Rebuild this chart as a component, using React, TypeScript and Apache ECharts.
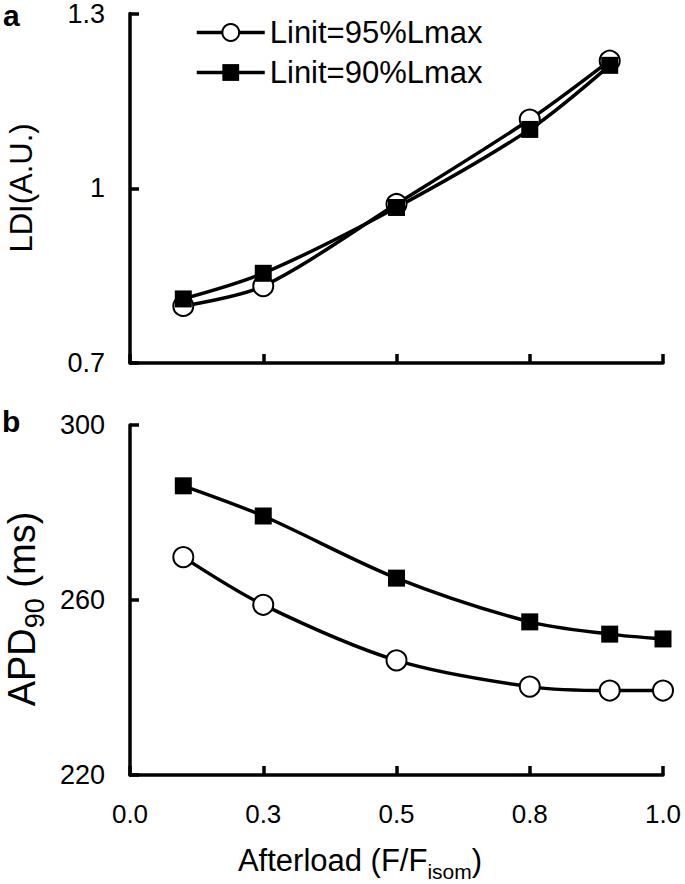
import React, { useEffect, useRef } from "react";
import * as echarts from "echarts";

const seriesNames = ["Linit=95%Lmax", "Linit=90%Lmax"];
const afterloadA = [0.1, 0.25, 0.5, 0.75, 0.9];
const ldi95 = [0.798, 0.832, 0.973, 1.118, 1.219];
const ldi90 = [0.81, 0.854, 0.967, 1.101, 1.211];
const afterloadB = [0.1, 0.25, 0.5, 0.75, 0.9, 1.0];
const apd95 = [269.8, 258.9, 246.2, 240.2, 239.3, 239.3];
const apd90 = [286.1, 279.2, 265.0, 255.0, 252.2, 251.1];
const panelLabels = ["a", "b"];
const axisTitles = {
  ldi: "LDI(A.U.)",
  apd: "{m|APD}{s|90}{m| (ms)}",
  x: "{m|Afterload (F/F}{s|isom}{m|)}",
};

const FONT = "Liberation Sans, Arial, sans-serif";
const BLACK = "#000";

function pairs(xs: number[], ys: number[]) {
  return xs.map((x, i) => [x, ys[i]]);
}

export default function App() {
  const ref = useRef<HTMLDivElement>(null);
  useEffect(() => {
    if (!ref.current) return;
    const chart = echarts.init(ref.current, null, { renderer: "svg" });
    const axisLine = { show: true, lineStyle: { color: BLACK, width: 3.5 } };
    const axisTick = { show: true, inside: true, length: 9, lineStyle: { color: BLACK, width: 3.5 } };
    const xAxisBase = {
      type: "value",
      min: 0,
      max: 1,
      interval: 0.25,
      axisLine,
      axisTick,
      splitLine: { show: false },
    };
    const yLabel = { color: BLACK, fontSize: 27, lineHeight: 24, fontFamily: FONT, margin: 25 };
    const circleStyle = { color: "#fff", borderColor: BLACK, borderWidth: 2 };
    const squareStyle = { color: BLACK, borderColor: BLACK, borderWidth: 0 };
    const lineStyle = { color: BLACK, width: 3.5 };
    const panelLabelStyle = {
      fontSize: 30,
      fontWeight: "bold",
      fontFamily: FONT,
      fill: BLACK,
      verticalAlign: "middle",
      lineHeight: 20,
    };
    chart.setOption({
      animation: false,
      backgroundColor: "#fff",
      textStyle: { fontFamily: FONT },
      grid: [
        { left: 130, top: 13, width: 533, height: 350 },
        { left: 130, top: 425, width: 533, height: 350 },
      ],
      legend: {
        data: seriesNames,
        orient: "vertical",
        left: 195,
        top: 17,
        padding: 0,
        itemWidth: 68,
        itemHeight: 21,
        itemGap: 9,
        textStyle: { color: BLACK, fontSize: 31, fontFamily: FONT },
        lineStyle: { width: 3.5 },
      },
      xAxis: [
        { ...xAxisBase, gridIndex: 0, axisLabel: { show: false } },
        {
          ...xAxisBase,
          gridIndex: 1,
          axisLabel: {
            color: BLACK,
            fontSize: 26,
            fontFamily: FONT,
            margin: 26,
            formatter: (v: number) => v.toFixed(1),
          },
        },
      ],
      yAxis: [
        {
          type: "value",
          gridIndex: 0,
          min: 0.7,
          max: 1.3,
          interval: 0.3,
          axisLine,
          axisTick,
          splitLine: { show: false },
          axisLabel: { ...yLabel, formatter: (v: number) => String(Math.round(v * 10) / 10) },
        },
        {
          type: "value",
          gridIndex: 1,
          min: 220,
          max: 300,
          interval: 40,
          axisLine,
          axisTick,
          splitLine: { show: false },
          axisLabel: yLabel,
        },
      ],
      series: [
        {
          name: seriesNames[0],
          type: "line",
          xAxisIndex: 0,
          yAxisIndex: 0,
          data: pairs(afterloadA, ldi95),
          smooth: 0.3,
          symbol: "circle",
          symbolSize: 20,
          itemStyle: circleStyle,
          lineStyle,
        },
        {
          name: seriesNames[1],
          type: "line",
          xAxisIndex: 0,
          yAxisIndex: 0,
          data: pairs(afterloadA, ldi90),
          smooth: 0.3,
          symbol: "rect",
          symbolSize: 17,
          itemStyle: squareStyle,
          lineStyle,
        },
        {
          name: seriesNames[0],
          type: "line",
          xAxisIndex: 1,
          yAxisIndex: 1,
          data: pairs(afterloadB, apd95),
          smooth: 0.3,
          symbol: "circle",
          symbolSize: 20,
          itemStyle: circleStyle,
          lineStyle,
        },
        {
          name: seriesNames[1],
          type: "line",
          xAxisIndex: 1,
          yAxisIndex: 1,
          data: pairs(afterloadB, apd90),
          smooth: 0.3,
          symbol: "rect",
          symbolSize: 17,
          itemStyle: squareStyle,
          lineStyle,
        },
      ],
      graphic: [
        { type: "text", x: 3, y: 15, style: { ...panelLabelStyle, text: panelLabels[0] } },
        { type: "text", x: 2, y: 421, style: { ...panelLabelStyle, text: panelLabels[1] } },
        {
          type: "text",
          x: 21,
          y: 188,
          rotation: Math.PI / 2,
          style: {
            text: axisTitles.ldi,
            fontSize: 31,
            fontFamily: FONT,
            fill: BLACK,
            align: "center",
            verticalAlign: "middle",
          },
        },
        {
          type: "text",
          x: 22,
          y: 609,
          rotation: Math.PI / 2,
          style: {
            text: axisTitles.apd,
            fontFamily: FONT,
            fill: BLACK,
            align: "center",
            verticalAlign: "middle",
            rich: {
              m: { fontSize: 38, lineHeight: 52, fontFamily: FONT, fill: BLACK },
              s: { fontSize: 27, lineHeight: 52, fontFamily: FONT, fill: BLACK, verticalAlign: "bottom" },
            },
          },
        },
        {
          type: "text",
          x: 360,
          y: 860,
          style: {
            text: axisTitles.x,
            fontFamily: FONT,
            fill: BLACK,
            align: "center",
            verticalAlign: "middle",
            rich: {
              m: { fontSize: 31, lineHeight: 44, fontFamily: FONT, fill: BLACK },
              s: { fontSize: 21, lineHeight: 44, fontFamily: FONT, fill: BLACK, verticalAlign: "bottom" },
            },
          },
        },
      ],
    });
    return () => chart.dispose();
  }, []);
  return (
    <div
      ref={ref}
      style={{ position: "absolute", left: 0, top: 0, width: 685, height: 884, background: "#fff" }}
    />
  );
}
